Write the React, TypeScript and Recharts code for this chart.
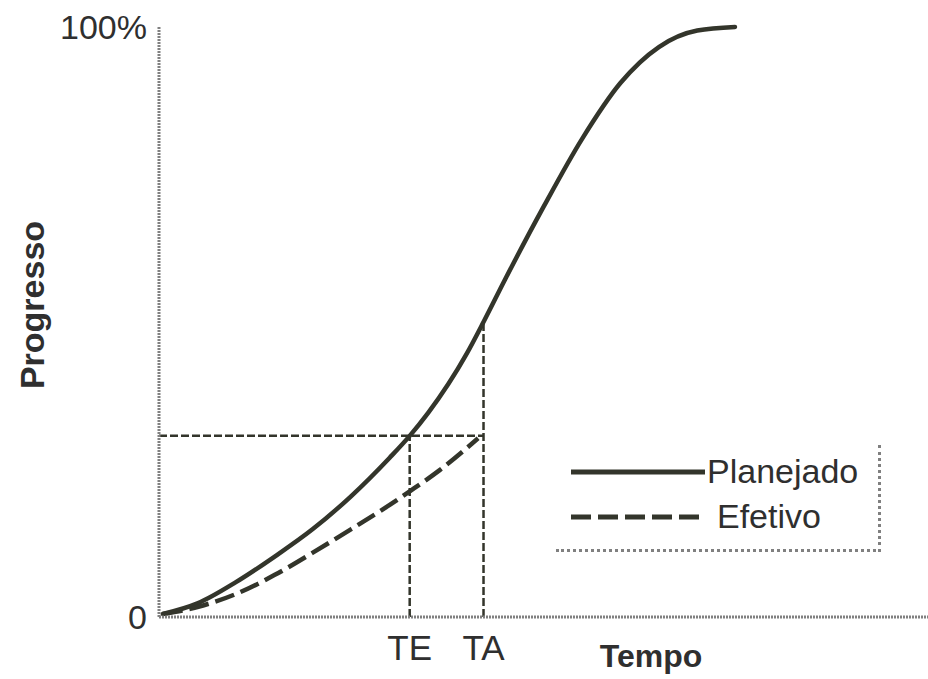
import React from 'react'
import { LineChart, Line, XAxis, YAxis, ReferenceLine, Label } from 'recharts'

// Curva S: tempo (0-100) x progresso (%)
const tempoPlanejado = [0.5, 5, 10, 15, 20, 25, 30, 32.6, 35, 40, 42.2, 45, 50, 55, 60, 65, 70, 74.9]
const progressoPlanejado = [0.5, 2.3, 5.9, 10.2, 14.9, 20.5, 27.0, 30.7, 34.6, 44.6, 50, 57.2, 69.5, 81, 90.5, 96.6, 99.4, 100]
const tempoEfetivo = [0.5, 5, 10, 15, 20, 25, 30, 32.6, 36.5, 41.5]
const progressoEfetivo = [0.5, 1.7, 3.9, 7.1, 10.9, 14.9, 19.0, 21.3, 24.9, 30.3]

// marcos: TE (tempo esperado) e TA (tempo atual)
const xTicks = [32.6, 42.2]
const xTickLabels = ['TE', 'TA']
const yTicks = [0, 100]
const yTickLabels = ['0', '100%']
const nivelAtual = 30.7 // progresso efetivo em TA = planejado em TE
const planejadoEmTA = 50

const seriesNames = ['Planejado', 'Efetivo']
const seriesDash = ['', '20 7']

const planejadoData = tempoPlanejado.map((t, i) => ({ t, v: progressoPlanejado[i] }))
const efetivoData = tempoEfetivo.map((t, i) => ({ t, v: progressoEfetivo[i] }))

const FONT = '"Liberation Sans", Arial, sans-serif'
const INK = '#33352b'
const TEXT = '#2f2f2f'
const AXIS = '#808080'

const XTick = ({ x, y, payload }: any) => {
  const i = xTicks.indexOf(payload.value)
  return (
    <text x={x} y={y + 35} textAnchor="middle" fontSize={35} fontFamily={FONT} fill={TEXT}>
      {xTickLabels[i]}
    </text>
  )
}

const YTick = ({ x, y, payload }: any) => {
  const i = yTicks.indexOf(payload.value)
  return (
    <text x={x - 4} y={y} dy="0.36em" textAnchor="end" fontSize={34} fontFamily={FONT} fill={TEXT}>
      {yTickLabels[i]}
    </text>
  )
}

const LegendBox = () => (
  <div
    style={{
      position: 'absolute',
      left: 556,
      top: 445,
      width: 325,
      height: 107,
      borderRight: `3px dotted ${AXIS}`,
      borderBottom: `3px dotted ${AXIS}`,
      boxSizing: 'border-box',
      fontFamily: FONT,
    }}
  >
    {seriesNames.map((name, index) => (
      <div key={`legend-${index}`}>
        <svg
          width={134}
          height={10}
          style={{ position: 'absolute', left: 15, top: (index === 0 ? 27 : 72) - 5 }}
        >
          <line x1={0} y1={5} x2={134} y2={5} stroke={INK} strokeWidth={5} strokeDasharray={seriesDash[index]} />
        </svg>
        <span
          style={{
            position: 'absolute',
            left: index === 0 ? 151 : 161,
            top: (index === 0 ? 27 : 72) - 21,
            fontSize: 34,
            lineHeight: '40px',
            color: TEXT,
          }}
        >
          {name}
        </span>
      </div>
    ))}
  </div>
)

const App = () => {
  const refStyle = { stroke: INK, strokeWidth: 2.5, strokeDasharray: '8 3' }
  return (
    <div style={{ position: 'relative', width: 928, height: 679, background: '#fff' }}>
      <style>{'body{margin:0}'}</style>
      <LineChart width={928} height={679} margin={{ top: 27, right: 0, bottom: 0, left: 0 }}>
        <XAxis
          dataKey="t"
          type="number"
          domain={[0, 100]}
          ticks={xTicks}
          tick={<XTick />}
          tickLine={false}
          height={62}
          axisLine={{ stroke: AXIS, strokeWidth: 3, strokeDasharray: '2 1' }}
        >
          <Label
            content={({ viewBox }: any) => (
              <text
                x={viewBox.x + 492}
                y={viewBox.y + 50}
                textAnchor="middle"
                fontSize={32}
                fontWeight="bold"
                fontFamily={FONT}
                fill={TEXT}
              >
                Tempo
              </text>
            )}
          />
        </XAxis>
        <YAxis
          type="number"
          domain={[0, 100]}
          ticks={yTicks}
          tick={<YTick />}
          tickLine={false}
          width={159}
          axisLine={{ stroke: AXIS, strokeWidth: 3, strokeDasharray: '2 1' }}
        >
          <Label
            content={({ viewBox }: any) => (
              <text
                x={32}
                y={viewBox.y + 278}
                transform={`rotate(-90, 32, ${viewBox.y + 278})`}
                textAnchor="middle"
                dominantBaseline="central"
                fontSize={34}
                fontWeight="bold"
                fontFamily={FONT}
                fill={TEXT}
              >
                Progresso
              </text>
            )}
          />
        </YAxis>
        <ReferenceLine
          segment={[{ x: 0, y: nivelAtual }, { x: xTicks[1], y: nivelAtual }]}
          ifOverflow="visible"
          {...refStyle}
        />
        <ReferenceLine
          segment={[{ x: xTicks[0], y: 0 }, { x: xTicks[0], y: nivelAtual }]}
          ifOverflow="visible"
          {...refStyle}
        />
        <ReferenceLine
          segment={[{ x: xTicks[1], y: 0 }, { x: xTicks[1], y: planejadoEmTA }]}
          ifOverflow="visible"
          {...refStyle}
        />
        <Line
          data={planejadoData}
          dataKey="v"
          name={seriesNames[0]}
          type="monotone"
          stroke={INK}
          strokeWidth={4.5}
          strokeLinecap="round"
          dot={false}
          isAnimationActive={false}
        />
        <Line
          data={efetivoData}
          dataKey="v"
          name={seriesNames[1]}
          type="monotone"
          stroke={INK}
          strokeWidth={4.5}
          strokeDasharray={seriesDash[1]}
          dot={false}
          isAnimationActive={false}
        />
      </LineChart>
      <LegendBox />
    </div>
  )
}

export default App
